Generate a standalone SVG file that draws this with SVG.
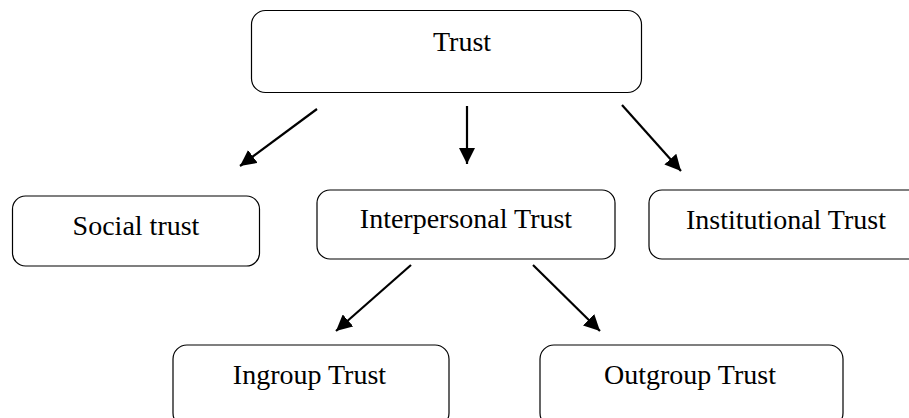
<svg xmlns="http://www.w3.org/2000/svg" width="909" height="418" viewBox="0 0 909 418">
<style>
.box{fill:#fff;stroke:#000;stroke-width:1.2}
.lbl{font-family:"Liberation Serif",serif;font-size:28px;fill:#000;text-anchor:middle}
.arr{stroke:#000;stroke-width:2.2;fill:none;marker-end:url(#ah)}
</style>
<defs>
<marker id="ah" markerUnits="userSpaceOnUse" markerWidth="18" markerHeight="16" refX="16" refY="8" orient="auto">
<path d="M0,0 L16,8 L0,16 Z" fill="#000"/>
</marker>
</defs>
<rect width="909" height="418" fill="#fff"/>
<g id="connectors">
<line class="arr" x1="317" y1="109" x2="240" y2="166"/>
<line class="arr" x1="467" y1="106" x2="467" y2="164"/>
<line class="arr" x1="622" y1="105" x2="681" y2="171"/>
<line class="arr" x1="411" y1="265" x2="336" y2="331"/>
<line class="arr" x1="533" y1="265" x2="600" y2="331"/>
</g>
<g id="trust">
<rect class="box" x="251.5" y="10.5" width="390" height="82" rx="14"/>
<text class="lbl" x="462" y="51">Trust</text>
</g>
<g id="social-trust">
<rect class="box" x="12.5" y="196" width="247" height="70" rx="13"/>
<text class="lbl" x="136" y="235">Social trust</text>
</g>
<g id="interpersonal-trust">
<rect class="box" x="317" y="190" width="298" height="69" rx="13"/>
<text class="lbl" x="466" y="228">Interpersonal Trust</text>
</g>
<g id="institutional-trust">
<rect class="box" x="649" y="190" width="280" height="69" rx="13"/>
<text class="lbl" x="786" y="229">Institutional Trust</text>
</g>
<g id="ingroup-trust">
<rect class="box" x="173" y="345" width="276" height="82" rx="14"/>
<text class="lbl" x="309.5" y="384">Ingroup Trust</text>
</g>
<g id="outgroup-trust">
<rect class="box" x="540" y="345" width="303" height="82" rx="14"/>
<text class="lbl" x="690" y="384">Outgroup Trust</text>
</g>
</svg>
